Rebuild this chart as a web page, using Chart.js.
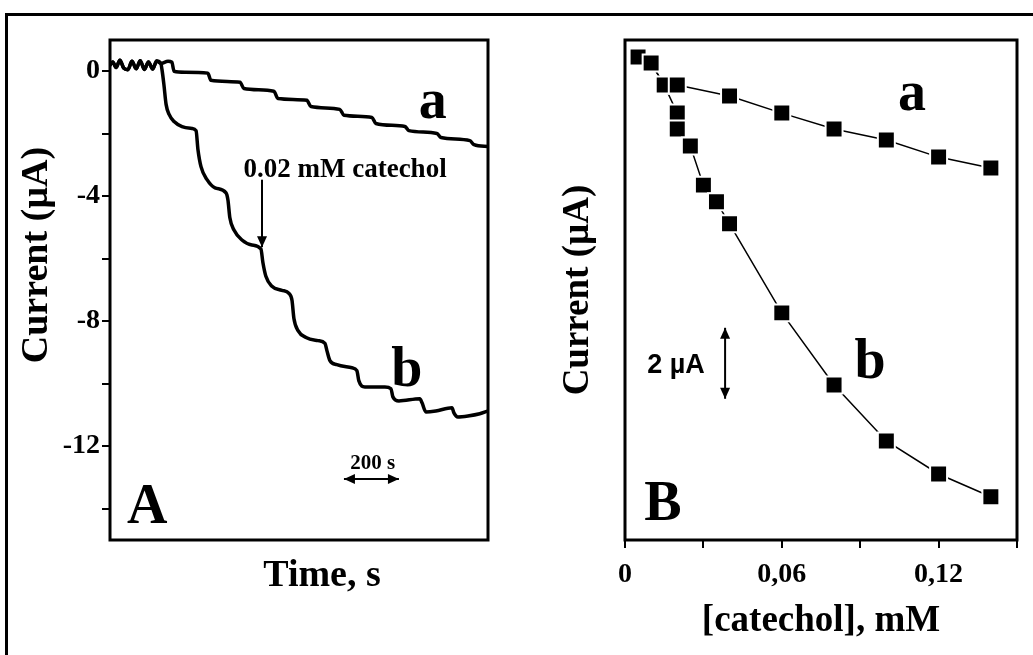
<!DOCTYPE html>
<html>
<head>
<meta charset="utf-8">
<title>Catechol response</title>
<script src="https://cdn.jsdelivr.net/npm/chart.js@4.4.1/dist/chart.umd.min.js"></script>
<style>
  html, body { margin: 0; padding: 0; background: #fff; overflow: hidden; }
  #page { position: relative; width: 1033px; height: 655px; }
  #frame { position: absolute; left: 5px; top: 13px; width: 1100px; height: 700px;
           border-left: 3px solid #000; border-top: 3px solid #000; }
  canvas { position: absolute; top: 0; }
  #chartA { left: 0; }
  #chartB { left: 520px; }
</style>
</head>
<body>
<div id="page">
  <div id="frame"></div>
  <canvas id="chartA" width="520" height="655"></canvas>
  <canvas id="chartB" width="513" height="655"></canvas>
</div>
<script>
// ---- Panel A: current-time traces (time in s, current in µA) ----
// common noisy baseline before the first addition
const baseTime = [0, 10, 22, 36, 50, 65, 80, 95, 110, 125, 140, 155, 170, 185];
const baseCurrent = [0.20, 0.30, 0.12, 0.35, 0.10, 0.05, 0.32, 0.08, 0.34, 0.06, 0.30, 0.07, 0.33, 0.25];

// trace a
const timeA = [211, 225, 233, 273, 356, 367, 473, 487, 596, 611, 716, 731, 836, 851,
               953, 967, 1073, 1087, 1189, 1204, 1309, 1324, 1375];
const currentA = [0.32, 0.29, 0.0, -0.03, -0.06, -0.29, -0.35, -0.55, -0.64, -0.87, -0.93, -1.13, -1.22, -1.41,
                  -1.48, -1.67, -1.77, -1.90, -1.99, -2.12, -2.22, -2.35, -2.41];

// trace b
const timeB = [189, 196, 204, 215, 233, 262, 298, 313, 320, 331, 353, 382, 422, 429, 436, 451, 480, 516,
               549, 556, 567, 589, 625, 651, 662, 669, 684, 713, 756, 782, 789, 800, 825, 880, 898,
               905, 927, 1000, 1022, 1029, 1051, 1127, 1135, 1149, 1185, 1244, 1251, 1265, 1302, 1345, 1375];
const currentB = [0.06, -0.42, -1.06, -1.38, -1.61, -1.77, -1.83, -1.90, -2.51, -3.05, -3.47, -3.73, -3.89, -4.12,
                  -4.69, -5.08, -5.40, -5.56, -5.69, -6.11, -6.56, -6.88, -7.01, -7.11, -7.33, -7.91, -8.30,
                  -8.52, -8.62, -8.71, -8.94, -9.26, -9.39, -9.49, -9.58, -9.90, -10.10, -10.10, -10.16,
                  -10.42, -10.55, -10.48, -10.61, -10.90, -10.87, -10.77, -10.93, -11.06, -11.03, -10.96, -10.87];

const yTicksA = [0, -2, -4, -6, -8, -10, -12, -14];
const yLabelsA = ['0', '', '-4', '', '-8', '', '-12', ''];

// ---- Panel B: calibration plots (concentration in mM, current in µA) ----
const concA = [0.005, 0.01, 0.015, 0.02, 0.04, 0.06, 0.08, 0.10, 0.12, 0.14];
const respA = [0, -0.17, -0.79, -0.79, -1.10, -1.58, -2.03, -2.34, -2.82, -3.13];
const concB = [0.005, 0.01, 0.015, 0.02, 0.02, 0.025, 0.03, 0.035, 0.04, 0.06, 0.08, 0.10, 0.12, 0.14];
const respB = [0, -0.17, -0.79, -1.58, -2.03, -2.51, -3.61, -4.08, -4.70, -7.21, -9.24, -10.82, -11.75, -12.39];

const xTicksB = [0, 0.03, 0.06, 0.09, 0.12, 0.15];
const xLabelsB = ['0', '', '0,06', '', '0,12', ''];

const SERIF = "'Liberation Serif', 'Times New Roman', serif";
const SANS = "'Liberation Sans', Arial, sans-serif";
Chart.defaults.color = '#000';
Chart.defaults.font.family = SERIF;
Chart.defaults.font.weight = 'bold';

function toPoints(xs, ys) {
    return xs.map((x, i) => ({ x: x, y: ys[i] }));
}

// box round the plot area
const boxFrame = {
    id: 'boxFrame',
    afterDraw(chart) {
        const { ctx, chartArea: a } = chart;
        ctx.save();
        ctx.lineWidth = 3;
        ctx.strokeStyle = '#000';
        ctx.strokeRect(a.left, a.top, a.right - a.left, a.bottom - a.top);
        ctx.restore();
    }
};

function head(ctx, x, y, angle) {
    ctx.save();
    ctx.translate(x, y);
    ctx.rotate(angle);
    ctx.beginPath();
    ctx.moveTo(0, 0);
    ctx.lineTo(-11, -5);
    ctx.lineTo(-11, 5);
    ctx.closePath();
    ctx.fill();
    ctx.restore();
}

function arrow(ctx, x1, y1, x2, y2, both) {
    const ang = Math.atan2(y2 - y1, x2 - x1);
    ctx.beginPath();
    ctx.moveTo(x1, y1);
    ctx.lineTo(x2, y2);
    ctx.stroke();
    head(ctx, x2, y2, ang);
    if (both) head(ctx, x1, y1, ang + Math.PI);
}

function text(chart, str, xv, yv, font) {
    const { ctx, scales } = chart;
    ctx.font = font;
    ctx.textAlign = 'center';
    ctx.textBaseline = 'alphabetic';
    ctx.fillText(str, scales.x.getPixelForValue(xv), scales.y.getPixelForValue(yv));
}

const notesA = {
    id: 'notesA',
    afterDatasetsDraw(chart) {
        const { ctx, scales: { x, y } } = chart;
        ctx.save();
        ctx.fillStyle = '#000';
        ctx.strokeStyle = '#000';
        ctx.lineWidth = 2;
        text(chart, 'a', 1174, -1.48, 'bold 56px ' + SERIF);
        text(chart, 'b', 1080, -10.06, 'bold 56px ' + SERIF);
        text(chart, 'A', 135, -14.47, 'bold 56px ' + SERIF);
        text(chart, '0.02 mM catechol', 855, -3.38, 'bold 27px ' + SERIF);
        arrow(ctx, x.getPixelForValue(553), y.getPixelForValue(-3.47),
              x.getPixelForValue(553), y.getPixelForValue(-5.63), false);
        // 200 s time bar
        text(chart, '200 s', 956, -12.73, 'bold 21px ' + SERIF);
        arrow(ctx, x.getPixelForValue(851), y.getPixelForValue(-13.05),
              x.getPixelForValue(1051), y.getPixelForValue(-13.05), true);
        ctx.restore();
    },
    afterDraw(chart) {
        // axis titles of this panel sit a little off the plot centre
        const { ctx, chartArea: a } = chart;
        ctx.save();
        ctx.fillStyle = '#000';
        ctx.font = 'bold 38px ' + SERIF;
        ctx.textAlign = 'center';
        ctx.textBaseline = 'middle';
        ctx.fillText('Time, s', (a.left + a.right) / 2 + 23, a.bottom + 36);
        ctx.translate(37, (a.top + a.bottom) / 2 - 35);
        ctx.rotate(-Math.PI / 2);
        ctx.fillText('Current (µA)', 0, 0);
        ctx.restore();
    }
};

const notesB = {
    id: 'notesB',
    afterDatasetsDraw(chart) {
        const { ctx, scales: { x, y } } = chart;
        ctx.save();
        ctx.fillStyle = '#000';
        ctx.strokeStyle = '#000';
        ctx.lineWidth = 2;
        text(chart, 'a', 0.1098, -1.49, 'bold 56px ' + SERIF);
        text(chart, 'b', 0.0938, -9.04, 'bold 56px ' + SERIF);
        text(chart, 'B', 0.0145, -13.04, 'bold 56px ' + SERIF);
        // 2 µA current bar
        text(chart, '2 µA', 0.0195, -8.90, 'bold 27px ' + SANS);
        arrow(ctx, x.getPixelForValue(0.0383), y.getPixelForValue(-7.63),
              x.getPixelForValue(0.0383), y.getPixelForValue(-9.63), true);
        ctx.restore();
    }
};

const traceStyle = {
    borderColor: '#000',
    borderWidth: 3.5,
    pointRadius: 0,
    cubicInterpolationMode: 'monotone',
    borderJoinStyle: 'round',
    borderCapStyle: 'round'
};

new Chart(document.getElementById('chartA'), {
    type: 'line',
    data: {
        datasets: [
            Object.assign({ label: 'a', data: toPoints(baseTime.concat(timeA), baseCurrent.concat(currentA)) }, traceStyle),
            Object.assign({ label: 'b', data: toPoints(baseTime.concat(timeB), baseCurrent.concat(currentB)) }, traceStyle)
        ]
    },
    options: {
        responsive: false,
        animation: false,
        layout: { padding: { left: 0, top: 40, right: 32, bottom: 0 } },
        plugins: { legend: { display: false }, tooltip: { enabled: false } },
        scales: {
            x: {
                type: 'linear', min: 0, max: 1375,
                grid: { display: false }, border: { display: false }, ticks: { display: false },
                afterFit(s) { s.height = 115; }
            },
            y: {
                min: -15, max: 1,
                afterBuildTicks(s) { s.ticks = yTicksA.map(v => ({ value: v })); },
                ticks: { padding: 2, font: { size: 28, weight: 'bold' }, callback: (v, i) => yLabelsA[i] },
                grid: { drawOnChartArea: false, drawTicks: true, tickLength: 8, color: '#000', lineWidth: 2 },
                border: { display: false },
                afterFit(s) { s.width = 110; }
            }
        }
    },
    plugins: [boxFrame, notesA]
});

const calStyle = {
    borderColor: '#000',
    borderWidth: 1.5,
    showLine: true,
    pointStyle: 'rect',
    pointRadius: 12,
    pointBackgroundColor: '#000',
    pointBorderColor: '#fff',
    pointBorderWidth: 2
};

new Chart(document.getElementById('chartB'), {
    type: 'scatter',
    data: {
        datasets: [
            Object.assign({ label: 'a', data: toPoints(concA, respA) }, calStyle),
            Object.assign({ label: 'b', data: toPoints(concB, respB) }, calStyle)
        ]
    },
    options: {
        responsive: false,
        animation: false,
        layout: { padding: { left: 0, top: 40, right: 16, bottom: 0 } },
        plugins: { legend: { display: false }, tooltip: { enabled: false } },
        scales: {
            x: {
                type: 'linear', min: 0, max: 0.15,
                afterBuildTicks(s) { s.ticks = xTicksB.map(v => ({ value: v })); },
                ticks: { padding: 10, maxRotation: 0, autoSkip: false, font: { size: 28, weight: 'bold' }, callback: (v, i) => xLabelsB[i] },
                grid: { drawOnChartArea: false, drawTicks: true, tickLength: 8, color: '#000', lineWidth: 2 },
                border: { display: false },
                title: { display: true, text: '[catechol], mM', font: { size: 37, weight: 'bold' }, padding: { top: 0, bottom: 11 } },
                afterFit(s) { s.height = 115; }
            },
            y: {
                min: -13.61, max: 0.48,
                grid: { display: false }, border: { display: false }, ticks: { display: false },
                title: { display: true, text: 'Current (µA)', font: { size: 37, weight: 'bold' }, padding: { top: 36, bottom: 0 } },
                afterFit(s) { s.width = 105; }
            }
        }
    },
    plugins: [boxFrame, notesB]
});
</script>
</body>
</html>
